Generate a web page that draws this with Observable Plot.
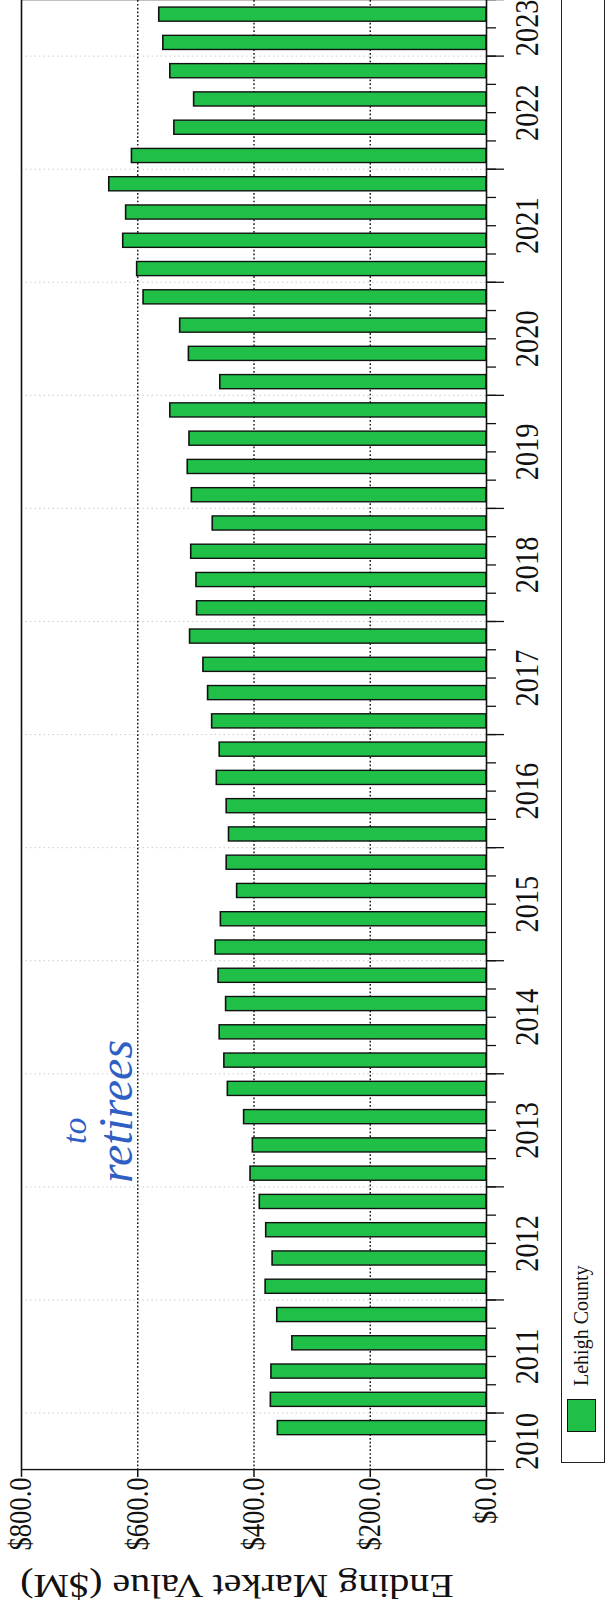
<!DOCTYPE html>
<html>
<head>
<meta charset="utf-8">
<script src="https://cdn.jsdelivr.net/npm/d3@7"></script>
<script src="https://cdn.jsdelivr.net/npm/@observablehq/plot@0.6"></script>
<style>
  html, body { margin: 0; padding: 0; background: #fff; overflow: hidden; }
  #page { position: relative; width: 608px; height: 1616px; overflow: hidden; background: #fff; }
  #rot { position: absolute; left: 0; top: 0; width: 1616px; height: 608px;
         transform-origin: 0 0; transform: translate(0, 1616px) rotate(-90deg); }
  #chart { position: absolute; left: 0; top: 0; transform-origin: 0 0; }
  #chart svg { max-width: none !important; }
  #legend { position: absolute; left: 153px; top: 561px; width: 1480px; height: 44px;
            border: 1.5px solid #222; box-sizing: border-box; background: #fff; }
  #legend .sw { position: absolute; left: 30px; top: 5px; width: 33px; height: 29px;
                border: 1.5px solid #111; box-sizing: border-box; }
  #legend .lb { position: absolute; left: 76px; top: 6px; font-family: 'Liberation Serif', serif;
                font-size: 20px; line-height: 26px; color: #111; white-space: nowrap; }
  .ink { position: absolute; font-family: 'Liberation Serif', serif; font-style: italic;
         color: #2f5fc4; white-space: nowrap; line-height: 1; }
</style>
</head>
<body>
<div id="page"><div id="rot"><div id="chart"></div><div id="legend"></div></div></div>
<script>
// ---- data ----
const periods = [
  "2010 Q3","2010 Q4",
  "2011 Q1","2011 Q2","2011 Q3","2011 Q4",
  "2012 Q1","2012 Q2","2012 Q3","2012 Q4",
  "2013 Q1","2013 Q2","2013 Q3","2013 Q4",
  "2014 Q1","2014 Q2","2014 Q3","2014 Q4",
  "2015 Q1","2015 Q2","2015 Q3","2015 Q4",
  "2016 Q1","2016 Q2","2016 Q3","2016 Q4",
  "2017 Q1","2017 Q2","2017 Q3","2017 Q4",
  "2018 Q1","2018 Q2","2018 Q3","2018 Q4",
  "2019 Q1","2019 Q2","2019 Q3","2019 Q4",
  "2020 Q1","2020 Q2","2020 Q3","2020 Q4",
  "2021 Q1","2021 Q2","2021 Q3","2021 Q4",
  "2022 Q1","2022 Q2","2022 Q3","2022 Q4",
  "2023 Q1","2023 Q2"
];
const endingMarketValue = [
  null, 359,
  371, 370, 334, 360,
  380, 368, 379, 390,
  406, 402, 417, 445,
  451, 459, 448, 461,
  466, 457, 429, 447,
  443, 447, 464, 459,
  472, 479, 487, 510,
  498, 499, 508, 471,
  507, 514, 511, 544,
  458, 512, 527, 590,
  601, 625, 620, 649,
  610, 537, 503, 544,
  556, 563
];
const years = [2010,2011,2012,2013,2014,2015,2016,2017,2018,2019,2020,2021,2022,2023];
const valueTicks = [0, 200, 400, 600, 800];
const seriesName = "Lehigh County";
const seriesColor = "#1fbf48";
const axisTitle = "Ending Market Value ($M)";
const inkLines = ["to", "retirees"];

// ---- derived tables ----
const rows = periods.map((p, i) => ({i, period: p, year: +p.slice(0, 4), value: endingMarketValue[i]}))
  .filter(d => d.value != null);
const slotYear = periods.map(p => +p.slice(0, 4));
const slotBounds = d3.range(0, periods.length + 1);
const yearBounds = slotBounds.filter(b => b === 0 || b === periods.length || slotYear[b] !== slotYear[b - 1]);
const yearCenters = years.map(y => {
  const idx = slotYear.map((v, i) => v === y ? i : -1).filter(i => i >= 0);
  return (idx[0] + idx[idx.length - 1] + 1) / 2;
});
const centerLabel = new Map(yearCenters.map((c, k) => [c, String(years[k])]));

// the scanned chart is horizontally condensed: draw wider, then squeeze
const S = 0.86;
const W = 1616 / S;
const font = "'Liberation Serif', 'Times New Roman', serif";

const chart = Plot.plot({
  width: W,
  height: 560,
  marginLeft: 146 / S,
  marginRight: 0,
  marginTop: 21,
  marginBottom: 74,
  x: {domain: [0, periods.length]},
  y: {domain: [0, 800], label: null},
  style: {fontFamily: font, fontSize: "30px", color: "#111", background: "transparent",
          overflow: "visible", maxWidth: "none"},
  marks: [
    Plot.ruleX(yearBounds.slice(1, -1), {stroke: "#9a9a9a", strokeOpacity: 0.55, strokeDasharray: "1.5,3"}),
    Plot.ruleY(valueTicks.filter(v => v > 0 && v < 800), {stroke: "#111", strokeWidth: 1.4, strokeDasharray: "2,2.4"}),
    Plot.rectY(rows, {x1: d => d.i + 0.25, x2: d => d.i + 0.75, y1: 0, y2: "value",
      fill: seriesColor, stroke: "#111", strokeWidth: 1.6}),
    Plot.frame({stroke: "#111", strokeWidth: 1.6}),
    Plot.axisY({ticks: valueTicks, tickSize: 8, tickPadding: 1, label: null,
      tickFormat: d => "$" + d.toFixed(1), fontSize: 31, fontFamily: font, strokeWidth: 1.5}),
    Plot.axisX({ticks: slotBounds, tickSize: 10, tickFormat: () => "", label: null, strokeWidth: 1.5}),
    Plot.axisX({ticks: yearBounds, tickSize: 18, tickFormat: () => "", label: null, strokeWidth: 1.5}),
    Plot.axisX({ticks: yearCenters, tickSize: 0, tickPadding: 28.5, label: null,
      tickFormat: c => centerLabel.get(c), fontSize: 33, fontFamily: font}),
    Plot.text([axisTitle], {frameAnchor: "left", dx: 30 / S - 146 / S, dy: -17, rotate: -90,
      fontSize: 40, fontFamily: font, fill: "#111", textAnchor: "middle", lineAnchor: "middle"})
  ]
});
const holder = document.getElementById("chart");
holder.style.width = W + "px";
holder.style.height = "560px";
holder.style.transform = `scale(${S}, 1)`;
chart.style.maxWidth = "none";
chart.style.width = W + "px";
chart.style.height = "560px";
holder.appendChild(chart);

// legend
const lg = document.getElementById("legend");
const sw = document.createElement("div"); sw.className = "sw"; sw.style.background = seriesColor;
const lb = document.createElement("div"); lb.className = "lb"; lb.textContent = seriesName;
lg.appendChild(sw); lg.appendChild(lb);

// handwritten annotation on the scan
const rot = document.getElementById("rot");
const ink1 = document.createElement("div"); ink1.className = "ink"; ink1.textContent = inkLines[0];
ink1.style.left = "472px"; ink1.style.top = "58px"; ink1.style.fontSize = "34px";
const ink2 = document.createElement("div"); ink2.className = "ink"; ink2.textContent = inkLines[1];
ink2.style.left = "433px"; ink2.style.top = "92px"; ink2.style.fontSize = "48px";
rot.appendChild(ink1); rot.appendChild(ink2);
</script>
</body>
</html>
